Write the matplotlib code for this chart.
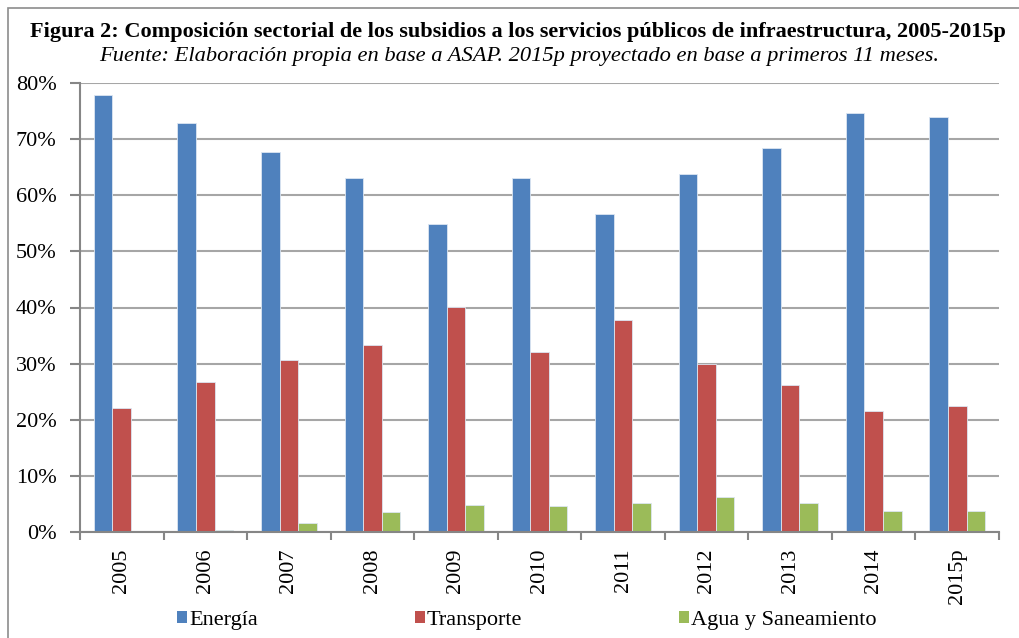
import matplotlib
matplotlib.use("Agg")
import matplotlib.pyplot as plt
from matplotlib.patches import Patch, Rectangle
import numpy as np

years = ["2005", "2006", "2007", "2008", "2009", "2010", "2011", "2012", "2013", "2014", "2015p"]
energia = [77.9, 72.9, 67.7, 63.0, 54.9, 63.0, 56.7, 63.7, 68.4, 74.7, 73.9]
transporte = [22.1, 26.7, 30.7, 33.3, 40.1, 32.1, 37.8, 29.9, 26.2, 21.6, 22.5]
agua = [0.0, 0.3, 1.55, 3.5, 4.75, 4.7, 5.2, 6.2, 5.2, 3.7, 3.7]
series_names = ["Energía", "Transporte", "Agua y Saneamiento"]
colors = ["#4F81BD", "#C0504D", "#9BBB59"]
yticks = [0, 10, 20, 30, 40, 50, 60, 70, 80]

title = "Figura 2: Composición sectorial de los subsidios a los servicios públicos de infraestructura, 2005-2015p"
subtitle = "Fuente: Elaboración propia en base a ASAP. 2015p proyectado en base a primeros 11 meses."

plt.rcParams['font.family'] = ['Liberation Serif', 'DejaVu Serif']

W, H = 1019, 638
fig = plt.figure(figsize=(W / 100, H / 100), dpi=100)

# figure border
fig.patches.append(Rectangle((8 / W, -0.1), 1.2, (H - 8) / H + 0.1, transform=fig.transFigure,
                             fill=False, edgecolor="#8C8C8C", linewidth=1.2))

ax = fig.add_axes([80 / W, (H - 532) / H, (999 - 80) / W, (532 - 83) / H])

x = np.arange(len(years))
w = 1 / 4.5
for i, (vals, c) in enumerate(zip([energia, transporte, agua], colors)):
    ax.bar(x + (i - 1) * w, np.array(vals) / 100, width=w, color=c,
           edgecolor="#DCE6F2", linewidth=0.6, label=series_names[i], zorder=3)

ax.set_xlim(-0.5, len(years) - 0.5)
ax.set_ylim(0, 0.8)
ax.set_yticks([v / 100 for v in yticks])
ax.set_yticklabels([f"{v}%" for v in yticks], fontsize=16)
ax.yaxis.grid(True, color="#A6A6A6", linewidth=1.5, zorder=0)
ax.set_axisbelow(True)

ax.set_xticks(x)
ax.set_xticklabels(years, rotation=90, fontsize=16, va="top")
ax.set_xticks(np.arange(-0.5, len(years)), minor=True)
ax.tick_params(axis="x", which="major", length=0, pad=12)
ax.tick_params(axis="x", which="minor", length=6, color="#868686", width=1.5, direction="out")
ax.tick_params(axis="y", length=7, color="#868686", width=1.5, pad=10)

for s in ["top", "right"]:
    ax.spines[s].set_visible(False)
for s in ["left", "bottom"]:
    ax.spines[s].set_color("#868686")
    ax.spines[s].set_linewidth(1.5)
ax.spines["bottom"].set_zorder(4)

fig.text(518 / W, 1 - 32 / H, title, ha="center", va="center", fontsize=16.0, fontweight="bold")
fig.text(519 / W, 1 - 57 / H, subtitle, ha="center", va="center", fontsize=16.2, style="italic")

handles = [Patch(facecolor=c, edgecolor="none") for c in colors]
fig.legend(handles, series_names, loc="center left", bbox_to_anchor=(177 / W, 1 - 620 / H),
           ncol=3, frameon=False, fontsize=16, handlelength=0.45, handleheight=0.45,
           handletextpad=0.1, columnspacing=7.05, borderaxespad=0, borderpad=0)

fig.savefig("out.png", dpi=100)
